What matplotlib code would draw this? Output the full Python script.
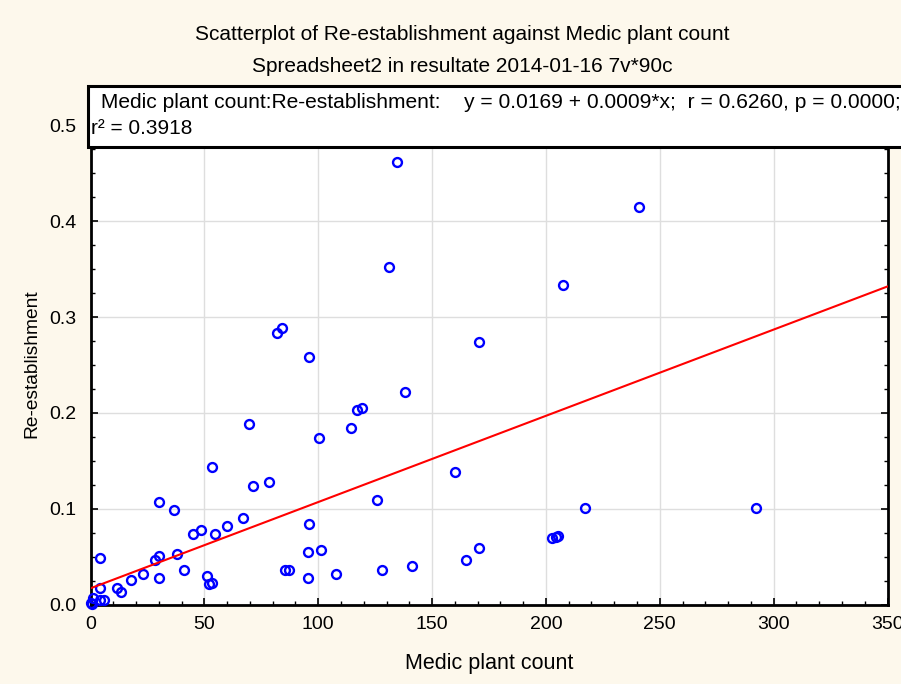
import numpy as np
import matplotlib
matplotlib.use("Agg")
import matplotlib.pyplot as plt
from matplotlib.patches import Rectangle
from matplotlib.ticker import MultipleLocator

plt.rcParams['font.family'] = ['Liberation Sans', 'DejaVu Sans']

# ---- data ----
medic_count = [134.7, 241.0, 131.2, 207.7, 83.9, 81.9, 96.1, 170.5, 138.2, 119.1,
               117.0, 69.5, 114.6, 100.5, 53.2, 160.2, 78.4, 71.4, 125.8, 30.0,
               36.5, 217.3, 292.2, 67.0, 96.1, 60.0, 48.6, 45.1, 54.7, 202.5,
               204.5, 205.4, 4.0, 28.2, 30.2, 38.1, 95.3, 101.4, 170.5, 164.7,
               40.9, 85.3, 87.2, 127.9, 141.0, 23.0, 107.7, 51.0, 17.8, 30.0,
               95.3, 52.1, 53.2, 11.6, 13.5, 4.0, 1.1, 4.0, 5.8, 0.2, 0.7]
reestablishment = [0.462, 0.415, 0.352, 0.333, 0.289, 0.283, 0.258, 0.274, 0.222, 0.205,
                   0.203, 0.188, 0.184, 0.174, 0.143, 0.138, 0.128, 0.124, 0.109, 0.107,
                   0.0987, 0.1008, 0.1008, 0.0903, 0.0841, 0.082, 0.0778, 0.0736, 0.0736, 0.0691,
                   0.0708, 0.0715, 0.0486, 0.0465, 0.0506, 0.0524, 0.0548, 0.0569, 0.059, 0.0465,
                   0.036, 0.036, 0.036, 0.036, 0.0399, 0.0318, 0.0315, 0.0298, 0.0256, 0.0277,
                   0.0274, 0.0211, 0.0228, 0.0172, 0.0127, 0.0172, 0.0071, 0.0044, 0.0044, 0.0016, 0.0005]
intercept = 0.0169
slope = 0.0009
x_ticks = [0, 50, 100, 150, 200, 250, 300, 350]
y_ticks = [0.0, 0.1, 0.2, 0.3, 0.4, 0.5]

title_line1 = "Scatterplot of Re-establishment against Medic plant count"
title_line2 = "Spreadsheet2 in resultate 2014-01-16 7v*90c"
legend_line1 = " Medic plant count:Re-establishment:    y = 0.0169 + 0.0009*x;  r = 0.6260, p = 0.0000;"
legend_line2 = "r\u00b2 = 0.3918"
x_label = "Medic plant count"
y_label = "Re-establishment"

W, H = 901, 684
bg = '#fdf8ec'
fig = plt.figure(figsize=(W / 100, H / 100), dpi=100, facecolor=bg)

ax = fig.add_axes([90.5 / W, 1 - 604.5 / H, 797 / W, (604.5 - 88) / H])
ax.set_facecolor('white')
ax.set_xlim(0, 350)
ax.set_ylim(0, 0.539)

ax.set_xticks(x_ticks)
ax.set_yticks(y_ticks)
ax.set_xticklabels([str(v) for v in x_ticks])
ax.set_yticklabels([f"{v:.1f}" for v in y_ticks])
ax.xaxis.set_minor_locator(MultipleLocator(10))
ax.yaxis.set_minor_locator(MultipleLocator(0.025))
ax.tick_params(which='both', direction='in', top=True, right=True, color='black')
ax.tick_params(which='major', length=5, width=1.2, labelsize=14)
ax.tick_params(axis='y', which='major', pad=10)
ax.tick_params(axis='x', which='major', pad=8)
ax.tick_params(which='minor', length=3, width=1.0)
ax.grid(True, which='major', color='#dedede', linewidth=1.0)
ax.set_axisbelow(True)
for s in ax.spines.values():
    s.set_linewidth(2.0)
    s.set_color('black')

ax.plot(medic_count, reestablishment, linestyle='none', marker='o', markersize=6.4,
        markerfacecolor='none', markeredgecolor='#0000ff', markeredgewidth=1.7,
        clip_on=False, zorder=3)

xl = np.array(ax.get_xlim())
ax.plot(xl, intercept + slope * xl, color='#ff0000', linewidth=1.5, zorder=4)

ax.set_xlabel(x_label, fontsize=15.5)
ax.xaxis.set_label_coords(0.5, -(664 - 604.5) / 516.5)
ax.set_ylabel(y_label, fontsize=13.8)
ax.yaxis.set_label_coords(-(90.5 - 32) / 797, (604.5 - 364) / 516.5)
ax.xaxis.label.set_verticalalignment('center')
ax.yaxis.label.set_verticalalignment('center')

fig.text(462 / W, 1 - 35 / H, title_line1, ha='center', va='center', fontsize=15)
fig.text(462 / W, 1 - 66 / H, title_line2, ha='center', va='center', fontsize=15)

box = Rectangle((88 / W, 1 - 147 / H), (W + 10 - 88) / W, 61 / H, transform=fig.transFigure,
                facecolor='white', edgecolor='black', linewidth=2.2, zorder=10, clip_on=False)
fig.add_artist(box)
fig.text(95 / W, 1 - 103 / H, legend_line1, ha='left', va='center', fontsize=15.1, zorder=11)
fig.text(91 / W, 1 - 129 / H, legend_line2, ha='left', va='center', fontsize=15, zorder=11)

fig.savefig('out.png', dpi=100, facecolor=bg)
